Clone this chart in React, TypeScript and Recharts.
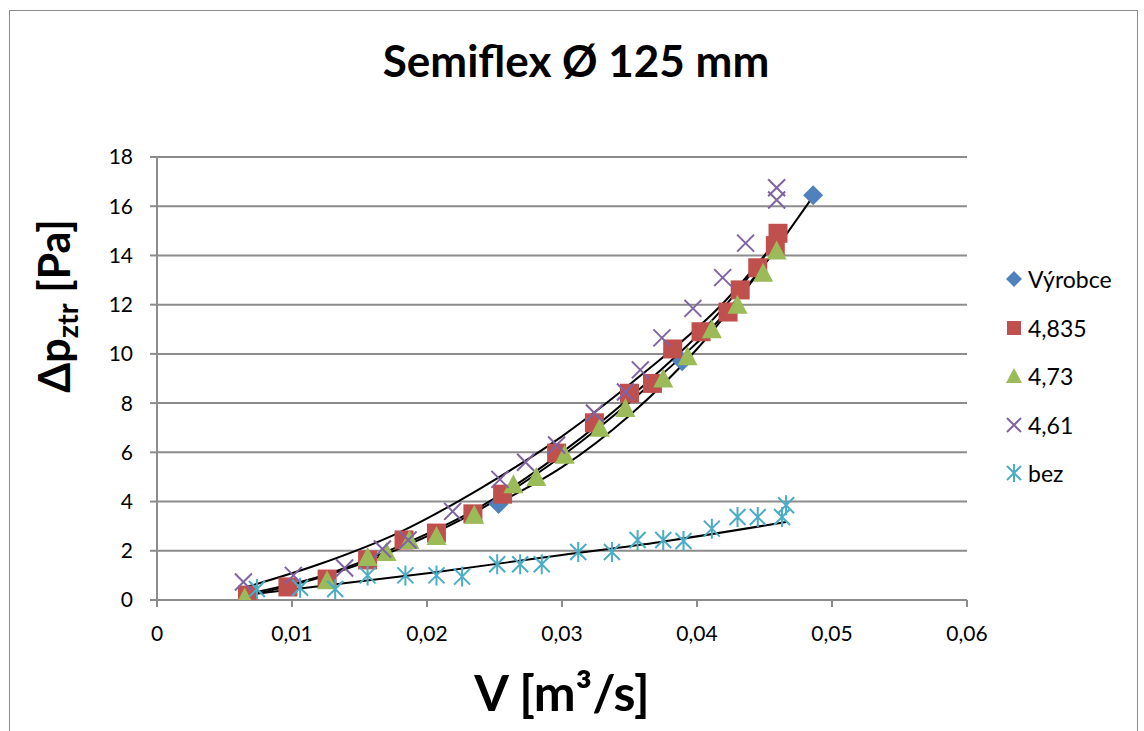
import { ComposedChart, Scatter, Line, XAxis, YAxis, CartesianGrid } from "recharts"

// Semiflex Ø 125 mm – measured pressure loss vs. flow rate

const vyrobceV = [0.0253, 0.0389, 0.0486]
const vyrobceP = [3.9, 9.7, 16.45]

const s4835V = [0.0067, 0.0097, 0.0126, 0.0156, 0.0183, 0.0207, 0.0234, 0.0256, 0.0296, 0.0324, 0.035, 0.0367, 0.0382, 0.0403, 0.0423, 0.0432, 0.0445, 0.0458, 0.046]
const s4835P = [0.2, 0.53, 0.85, 1.63, 2.44, 2.72, 3.5, 4.3, 5.97, 7.2, 8.4, 8.8, 10.2, 10.9, 11.7, 12.6, 13.5, 14.4, 14.9]

const s473V = [0.0065, 0.0126, 0.0156, 0.017, 0.0187, 0.0207, 0.0235, 0.0264, 0.0281, 0.0302, 0.0328, 0.0347, 0.0375, 0.0393, 0.0411, 0.043, 0.0449, 0.0459]
const s473P = [0.1, 0.8, 1.75, 1.95, 2.44, 2.6, 3.46, 4.7, 5.0, 5.9, 7.0, 7.8, 9.0, 9.9, 11.0, 12.0, 13.3, 14.2]

const s461V = [0.0064, 0.0101, 0.0139, 0.0167, 0.0186, 0.0219, 0.0254, 0.0273, 0.0296, 0.0324, 0.0347, 0.0358, 0.0374, 0.0397, 0.0419, 0.0436, 0.0459, 0.0459]
const s461P = [0.73, 1.0, 1.3, 2.07, 2.44, 3.6, 4.9, 5.6, 6.3, 7.6, 8.45, 9.35, 10.65, 11.85, 13.1, 14.5, 16.25, 16.75]

const bezV = [0.0074, 0.0106, 0.0132, 0.0156, 0.0184, 0.0207, 0.0226, 0.0252, 0.0269, 0.0285, 0.0312, 0.0337, 0.0356, 0.0375, 0.039, 0.0411, 0.043, 0.0445, 0.0463, 0.0466]
const bezP = [0.45, 0.5, 0.45, 1.0, 1.0, 1.0, 0.95, 1.45, 1.45, 1.45, 1.95, 1.95, 2.44, 2.44, 2.4, 2.9, 3.37, 3.37, 3.37, 3.85]

// trend lines
const trVyrobceV = [0.0253, 0.03, 0.035, 0.04, 0.044, 0.0486]
const trVyrobceP = [3.95, 5.4, 7.5, 10.2, 12.9, 16.4]
const tr4835V = [0.0067, 0.012, 0.018, 0.024, 0.03, 0.036, 0.042, 0.046]
const tr4835P = [0.25, 0.95, 2.2, 3.8, 6.0, 8.7, 11.9, 14.7]
const tr473V = [0.0065, 0.012, 0.018, 0.024, 0.03, 0.036, 0.042, 0.0459]
const tr473P = [0.15, 0.9, 2.1, 3.7, 5.85, 8.5, 11.6, 14.3]
const tr461V = [0.0064, 0.012, 0.018, 0.024, 0.03, 0.036, 0.042, 0.0459]
const tr461P = [0.49, 1.45, 2.76, 4.55, 6.65, 9.2, 12.1, 14.6]
const trBezV = [0.0065, 0.0202, 0.03, 0.0373, 0.0466]
const trBezP = [0.2, 1.1, 1.83, 2.36, 3.17]

const xTicks = [0, 0.01, 0.02, 0.03, 0.04, 0.05, 0.06]
const yTicks = [0, 2, 4, 6, 8, 10, 12, 14, 16, 18]

const BLUE = "#4F81BD"
const RED = "#C0504D"
const GREEN = "#9BBB59"
const PURPLE = "#8064A2"
const AQUA = "#4BACC6"
const GRID = "#8c8c8c"
const FONT = "Lato, 'Open Sans', sans-serif"

const pts = (vs: number[], ps: number[]) => vs.map((v, i) => ({ v, p: ps[i] }))

function Marker({ kind, x, y, s }: { kind: string; x: number; y: number; s: number }) {
  const h = s / 2
  if (kind === "diamond")
    return <polygon points={`${x},${y - h - 1} ${x + h + 1},${y} ${x},${y + h + 1} ${x - h - 1},${y}`} fill={BLUE} />
  if (kind === "square") return <rect x={x - h} y={y - h} width={s} height={s} fill={RED} />
  if (kind === "triangle")
    return <polygon points={`${x},${y - h - 1} ${x + h + 1},${y + h} ${x - h - 1},${y + h}`} fill={GREEN} />
  if (kind === "cross")
    return (
      <path d={`M${x - h},${y - h}L${x + h},${y + h}M${x - h},${y + h}L${x + h},${y - h}`} stroke={PURPLE} strokeWidth={2} />
    )
  return (
    <path
      d={`M${x - h},${y - h}L${x + h},${y + h}M${x - h},${y + h}L${x + h},${y - h}M${x},${y - h - 2}L${x},${y + h + 2}`}
      stroke={AQUA}
      strokeWidth={2}
    />
  )
}

const shape = (kind: string, s: number) => (props: any) => <Marker kind={kind} x={props.cx} y={props.cy} s={s} />

const legendItems = [
  { kind: "diamond", name: "Výrobce" },
  { kind: "square", name: "4,835" },
  { kind: "triangle", name: "4,73" },
  { kind: "cross", name: "4,61" },
  { kind: "star", name: "bez" },
]

function LegendBox() {
  return (
    <div style={{ position: "relative", width: 125, height: 230 }}>
      {legendItems.map((it, i) => (
        <div key={it.name} style={{ position: "absolute", left: 0, top: i * 48.5, height: 24, display: "flex", alignItems: "center" }}>
          <svg width={20} height={24} style={{ display: "block" }}>
            <Marker kind={it.kind} x={9} y={12} s={14} />
          </svg>
          <span style={{ fontSize: 23, lineHeight: "24px", marginLeft: 3, whiteSpace: "nowrap" }}>{it.name}</span>
        </div>
      ))}
    </div>
  )
}

const fmtX = (v: number) => (v === 0 ? "0" : v.toFixed(2).replace(".", ","))

export default function App() {
  return (
    <div style={{ position: "absolute", left: 0, top: 0, width: 1144, height: 731, background: "#fff", overflow: "hidden", fontFamily: FONT }}>
      <div style={{ position: "absolute", left: 9, top: 10, width: 1127, height: 760, border: "1.5px solid #8c8c8c" }} />
      <div style={{ position: "absolute", left: 0, width: 1152, top: 34, textAlign: "center", fontSize: 44, fontWeight: 700 }}>
        Semiflex Ø 125 mm
      </div>
      <div style={{ position: "absolute", left: 300, width: 524, top: 662, textAlign: "center", fontSize: 50, fontWeight: 700 }}>
        V [m³/s]
      </div>
      <div
        style={{
          position: "absolute",
          left: 54 - 150,
          top: 306 - 30,
          width: 300,
          height: 60,
          lineHeight: "60px",
          textAlign: "center",
          fontSize: 43,
          fontWeight: 700,
          transform: "rotate(-90deg)",
          whiteSpace: "nowrap",
        }}
      >
        Δp<sub style={{ fontSize: 29, verticalAlign: "-8px" }}>ztr</sub> [Pa]
      </div>
      <div style={{ position: "absolute", left: 1005, top: 267 }}>
        <LegendBox />
      </div>
      <div style={{ position: "absolute", left: 0, top: 0 }}>
        <ComposedChart width={1144} height={731} margin={{ top: 157, right: 177, bottom: 91, left: 0 }}>
          <CartesianGrid vertical={false} stroke={GRID} strokeWidth={2} />
          <XAxis
            type="number"
            dataKey="v"
            domain={[0, 0.06]}
            ticks={xTicks}
            tickFormatter={fmtX}
            height={40}
            stroke={GRID}
            strokeWidth={2}
            tickSize={7}
            tickMargin={19}
            tick={{ fill: "#000", fontSize: 21, fontFamily: FONT }}
            allowDataOverflow
          />
          <YAxis
            type="number"
            dataKey="p"
            domain={[0, 18]}
            ticks={yTicks}
            width={157}
            stroke={GRID}
            strokeWidth={2}
            tickSize={7}
            tickMargin={17}
            tick={{ fill: "#000", fontSize: 21, fontFamily: FONT }}
            allowDataOverflow
          />
          <Scatter name="Výrobce" data={pts(vyrobceV, vyrobceP)} shape={shape("diamond", 18)} isAnimationActive={false} />
          <Scatter name="4,835" data={pts(s4835V, s4835P)} shape={shape("square", 19)} isAnimationActive={false} />
          <Scatter name="4,73" data={pts(s473V, s473P)} shape={shape("triangle", 18)} isAnimationActive={false} />
          <Scatter name="4,61" data={pts(s461V, s461P)} shape={shape("cross", 17)} isAnimationActive={false} />
          <Scatter name="bez" data={pts(bezV, bezP)} shape={shape("star", 16)} isAnimationActive={false} />
          <Line data={pts(trVyrobceV, trVyrobceP)} dataKey="p" type="monotone" stroke="#000" strokeWidth={2} dot={false} activeDot={false} isAnimationActive={false} />
          <Line data={pts(tr4835V, tr4835P)} dataKey="p" type="monotone" stroke="#000" strokeWidth={2} dot={false} activeDot={false} isAnimationActive={false} />
          <Line data={pts(tr473V, tr473P)} dataKey="p" type="monotone" stroke="#000" strokeWidth={2} dot={false} activeDot={false} isAnimationActive={false} />
          <Line data={pts(tr461V, tr461P)} dataKey="p" type="monotone" stroke="#000" strokeWidth={2} dot={false} activeDot={false} isAnimationActive={false} />
          <Line data={pts(trBezV, trBezP)} dataKey="p" type="monotone" stroke="#000" strokeWidth={2} dot={false} activeDot={false} isAnimationActive={false} />
        </ComposedChart>
      </div>
    </div>
  )
}
